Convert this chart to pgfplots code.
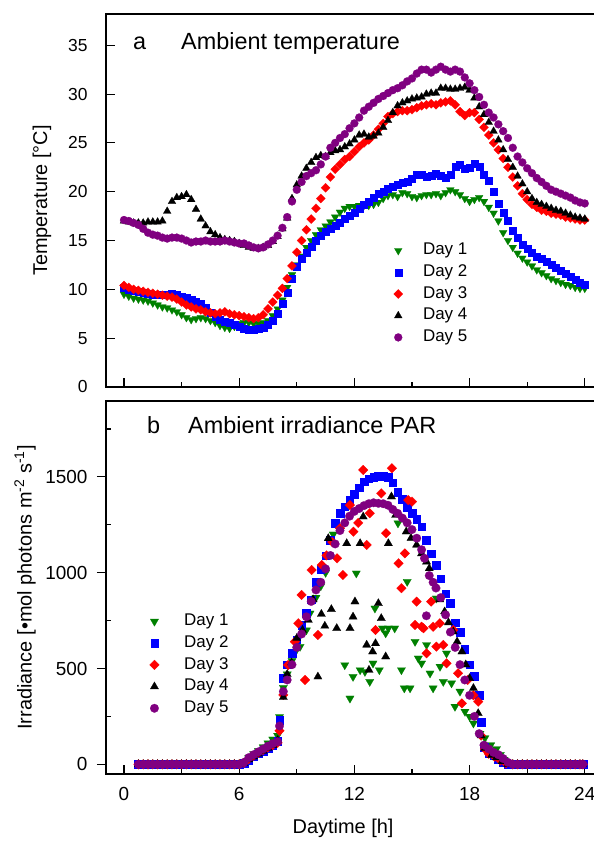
\documentclass[border=0pt]{standalone}
\usepackage{fontspec}
\setmainfont{Liberation Sans}
\usepackage{pgfplots}
\usepackage{pgfplotstable}
\pgfplotsset{compat=1.18}
\definecolor{dgreen}{RGB}{0,128,0}
\definecolor{dblue}{RGB}{0,0,255}
\definecolor{dred}{RGB}{255,0,0}
\definecolor{dpurple}{RGB}{128,0,128}

\pgfplotstableread{
t d1 d2 d3 d4 d5
0 9.5 10.2 10.4 17.0 17.1
0.25 9.3 10.0 10.2 16.9 17.0
0.5 9.1 9.9 10.0 16.8 16.8
0.75 9.0 9.8 9.9 16.8 16.6
1.0 8.9 9.7 9.8 16.8 16.2
1.25 8.8 9.6 9.7 16.9 15.8
1.5 8.6 9.5 9.6 16.9 15.6
1.75 8.4 9.5 9.5 16.9 15.5
2.0 8.2 9.5 9.4 17.0 15.3
2.25 8.1 9.5 9.3 18.0 15.2
2.5 7.9 9.6 9.2 19.0 15.3
2.75 7.7 9.5 9.0 19.4 15.3
3.0 7.4 9.3 8.7 19.5 15.2
3.25 7.1 9.2 8.4 19.7 15.0
3.5 6.9 8.9 8.2 19.2 14.8
3.75 7.0 8.7 8.0 18.2 14.9
4.0 7.1 8.5 7.9 17.2 14.9
4.25 7.0 8.1 7.7 16.5 15.0
4.5 6.8 7.6 7.6 15.9 14.9
4.75 6.6 7.2 7.5 15.6 14.9
5.0 6.3 6.9 7.6 15.3 14.9
5.25 6.1 6.7 7.7 15.1 15.0
5.5 6.0 6.6 7.5 15.0 14.9
5.75 6.2 6.4 7.4 14.9 14.8
6.0 6.5 6.2 7.3 14.7 14.7
6.25 6.6 6.0 7.2 14.5 14.7
6.5 6.6 5.9 7.1 14.3 14.5
6.75 6.5 5.9 7.0 14.2 14.3
7.0 6.5 6.0 7.1 14.2 14.2
7.25 6.6 6.1 7.4 14.3 14.3
7.5 6.8 6.4 8.0 14.5 14.6
7.75 7.3 6.8 8.7 14.9 15.0
8.0 8.0 7.5 9.4 15.4 15.5
8.25 8.9 8.5 10.1 16.2 16.3
8.5 10.2 9.7 11.1 17.3 17.4
8.75 11.5 11.1 12.4 19.3 19.0
9.0 12.5 12.3 13.8 20.7 20.2
9.25 13.4 13.1 15.0 21.6 21.0
9.5 14.3 13.8 16.1 22.4 21.6
9.75 15.0 14.4 17.2 23.0 21.9
10.0 15.6 15.0 18.3 23.5 22.2
10.25 16.1 15.5 19.3 23.7 22.8
10.5 16.5 15.9 20.4 23.6 23.6
10.75 16.9 16.2 21.5 24.0 24.5
11.0 17.4 16.5 22.3 24.2 25.0
11.25 17.9 16.8 22.8 24.3 25.5
11.5 18.3 17.2 23.3 24.6 25.9
11.75 18.5 17.6 23.6 24.9 26.5
12.0 18.5 17.9 24.1 25.3 27.0
12.25 18.6 18.3 24.6 25.8 27.6
12.5 18.6 18.7 25.0 25.9 28.3
12.75 18.6 19.0 25.3 25.6 28.7
13.0 18.7 19.4 25.8 25.7 29.1
13.25 18.9 19.8 26.4 26.0 29.5
13.5 19.3 20.0 27.0 26.6 29.8
13.75 19.6 20.3 27.7 27.3 30.1
14.0 19.7 20.5 28.0 28.1 30.4
14.25 19.5 20.7 28.2 28.8 30.6
14.5 19.9 20.9 28.3 29.1 30.9
14.75 19.8 21.0 28.3 29.3 31.3
15.0 19.5 21.3 28.4 29.5 31.6
15.25 19.4 21.8 28.6 29.6 32.1
15.5 19.6 21.8 28.8 29.7 32.5
15.75 19.7 21.5 28.9 30.0 32.5
16.0 19.7 21.6 29.0 30.1 32.2
16.25 19.8 21.9 28.9 30.1 32.5
16.5 19.6 21.7 29.1 30.6 32.8
16.75 19.9 21.4 29.2 30.6 32.5
17.0 20.2 21.8 29.3 30.5 32.3
17.25 20.0 22.6 28.9 30.5 32.5
17.5 19.7 22.8 28.2 30.6 32.3
17.75 19.3 22.4 27.8 30.7 31.7
18.0 19.0 22.5 28.1 30.4 31.1
18.25 19.2 22.9 28.1 29.6 30.4
18.5 19.4 22.6 27.4 28.7 29.7
18.75 19.0 21.8 26.6 27.9 28.9
19.0 18.4 21.1 25.8 27.1 28.1
19.25 17.8 20.0 25.0 26.2 27.6
19.5 17.0 18.8 24.3 25.3 26.9
19.75 15.8 17.9 23.4 24.3 26.2
20.0 15.0 17.0 22.5 23.3 25.5
20.25 14.3 16.0 21.5 22.5 24.5
20.5 13.7 15.3 20.6 21.6 23.6
20.75 13.2 14.6 19.8 20.8 23.0
21.0 12.8 14.2 19.2 20.0 22.4
21.25 12.4 13.8 18.7 19.3 21.9
21.5 12.0 13.4 18.4 18.9 21.4
21.75 11.7 13.1 18.1 18.7 21.0
22.0 11.4 12.8 18.0 18.5 20.6
22.25 11.1 12.5 17.8 18.3 20.2
22.5 10.9 12.2 17.7 18.1 20.0
22.75 10.7 11.9 17.6 18.0 19.8
23.0 10.5 11.6 17.4 17.8 19.6
23.25 10.4 11.3 17.3 17.6 19.4
23.5 10.2 11.0 17.2 17.4 19.1
23.75 10.1 10.7 17.1 17.3 18.9
24.0 10.1 10.5 17.1 17.2 18.8
}\temptable

\pgfplotsset{
  panel/.style={
    scale only axis, width=497bp, height=373bp,
    xmin=-0.9375, xmax=24.95,
    axis line style={line width=1.1bp},
    every tick/.style={line width=1.1bp, black},
    major tick length=9bp, minor tick length=4.5bp,
    xtick={0,6,12,18,24}, minor xtick={3,9,15,21},
    xtick pos=bottom, ytick pos=left,
    xtick align=inside,
    /pgf/number format/assume math mode=true,
    /pgf/number format/1000 sep={},
    legend cell align=left,
  },
  s1/.style={only marks, mark=triangle*, color=dgreen, mark options={rotate=180, fill=dgreen, draw=dgreen, line width=0.2bp}},
  s2/.style={only marks, mark=square*, color=dblue, mark options={fill=dblue, draw=dblue, line width=0.2bp}},
  s3/.style={only marks, mark=square*, color=dred, mark options={rotate=45, fill=dred, draw=dred, line width=0.2bp}},
  s4/.style={only marks, mark=triangle*, color=black, mark options={fill=black, draw=black, line width=0.2bp}},
  s5/.style={only marks, mark=*, color=dpurple, mark options={fill=dpurple, draw=dpurple, line width=0.2bp}},
}

\begin{document}
\begin{tikzpicture}
\path[use as bounding box] (0,0) rectangle (594bp,841bp);
% ---------- panel a ----------
\begin{axis}[panel,
  at={(106bp,454bp)}, anchor=south west,
  ymin=0, ymax=38.2,
  ytick={0,5,...,35}, ytick align=inside,
  xticklabels={},
  yticklabel style={font=\fontsize{17.5}{20}\selectfont, xshift=-15bp},
  ylabel={Temperature [°C]},
  ylabel style={font=\fontsize{20}{24}\selectfont, at={(axis description cs:-0.129,0.5)}, anchor=center},
  legend style={draw=none, fill=none, inner sep=0pt,
    font=\fontsize{17}{20}\selectfont,
    at={(axis cs:13.9,15.1)}, anchor=north west,
    nodes={inner sep=2.6bp, text height=12.5bp, text depth=4bp}},
  legend image code/.code={\draw[#1] plot coordinates {(7bp,0bp)}; \path (0bp,0bp) (29bp,0bp);},
]
\addplot[s1, mark size=4.5bp] table[x=t, y=d1] {\temptable};
\addplot[s2, mark size=3.5bp] table[x=t, y=d2] {\temptable};
\addplot[s3, mark size=3.2bp] table[x=t, y=d3] {\temptable};
\addplot[s4, mark size=4.5bp] table[x=t, y=d4] {\temptable};
\addplot[s5, mark size=4.0bp] table[x=t, y=d5] {\temptable};
\legend{Day 1,Day 2,Day 3,Day 4,Day 5}
\node[anchor=west, font=\fontsize{23.5}{28}\selectfont, inner sep=0pt] at (rel axis cs:0.054,0.922) {a};
\node[anchor=west, font=\fontsize{23.5}{28}\selectfont, inner sep=0pt] at (rel axis cs:0.151,0.922) {Ambient temperature};
\end{axis}
% ---------- panel b ----------
\begin{axis}[panel,
  at={(106bp,67bp)}, anchor=south west,
  ymin=-50.6, ymax=1896,
  ytick={0,500,1000,1500}, ytick align=outside,
  extra y ticks={250,750,1250,1750}, extra y tick labels={},
  extra y tick style={ytick align=inside, major tick length=4.5bp},
  xticklabels={0,6,12,18,24},
  xticklabel style={font=\fontsize{19}{22}\selectfont, yshift=-9.5bp},
  yticklabel style={font=\fontsize{19}{22}\selectfont, xshift=-6bp},
  xlabel={Daytime [h]},
  xlabel style={font=\fontsize{20}{24}\selectfont, at={(axis description cs:0.477,-0.147)}, anchor=center},
  ylabel={Irradiance [•mol photons m\textsuperscript{-2} s\textsuperscript{-1}]},
  ylabel style={font=\fontsize{20}{24}\selectfont, at={(axis description cs:-0.163,0.5)}, anchor=center},
  legend style={draw=none, fill=none, inner sep=0pt,
    font=\fontsize{17}{20}\selectfont,
    at={(axis cs:1.2,803)}, anchor=north west,
    nodes={inner sep=2.6bp, text height=12.5bp, text depth=4bp}},
  legend image code/.code={\draw[#1] plot coordinates {(7bp,0bp)}; \path (0bp,0bp) (34bp,0bp);},
]
\addplot[s1, mark size=4.8bp] coordinates {
(0.75,0)(1,0)(1.25,0)(1.5,0)(1.75,0)(2,0)(2.25,0)(2.5,0)(2.75,0)(3,0)(3.25,0)(3.5,0)(3.75,0)(4,0)(4.25,0)(4.5,0)(4.75,0)(5,0)(5.25,0)(5.5,0)(5.75,0)(6,0)
(6.25,12)(6.5,35)(6.75,55)(7.0,70)(7.25,90)(7.5,110)(7.75,130)(8.0,150)(8.1,248)(8.3,400)(8.5,470)(8.75,540)(9.0,600)(9.17,614)(9.5,700)(9.69,788)(10.0,870)(10.25,930)(10.5,1000)(10.9,1200)
(11.5,518)(11.77,344)(11.93,457)(12.1,997)(12.3,492)(12.55,483)(12.8,431)(12.97,527)(13.07,814)(13.3,492)(13.46,710)(13.63,684)(13.77,710)(14.1,710)(14.27,1258)(14.45,492)(14.6,397)(14.75,953)(14.9,397)
(15.16,640)(15.33,553)(15.5,527)(15.76,623)(15.94,475)(16.1,397)(16.27,866)(16.46,510)(16.63,431)(16.8,579)(17.06,423)(17.24,301)(17.5,380)(17.76,275)(18.0,249)(18.2,214)(18.54,160)(18.8,137)(19.1,100)(19.4,80)(19.6,50)(19.8,25)(20.0,5)
(20.25,0)(20.5,0)(20.75,0)(21,0)(21.25,0)(21.5,0)(21.75,0)(22,0)(22.25,0)(22.5,0)(22.75,0)(23,0)(23.25,0)(23.5,0)(23.75,0)(23.9,0)};
\addplot[s2, mark size=3.8bp] coordinates {
(0.75,0)(1,0)(1.25,0)(1.5,0)(1.75,0)(2,0)(2.25,0)(2.5,0)(2.75,0)(3,0)(3.25,0)(3.5,0)(3.75,0)(4,0)(4.25,0)(4.5,0)(4.75,0)(5,0)(5.25,0)(5.5,0)(5.75,0)(6,0)
(6.25,5)(6.5,20)(6.75,40)(7.0,55)(7.25,70)(7.5,85)(7.75,100)(8.0,120)(8.1,230)(8.3,450)(8.5,520)(8.75,580)(9.0,650)(9.25,727)(9.5,790)(9.75,860)(10.0,950)(10.25,1020)(10.5,1090)(10.75,1170)(11.0,1260)(11.25,1310)(11.5,1345)(11.75,1380)
(12.0,1410)(12.25,1445)(12.5,1475)(12.75,1490)(13.0,1500)(13.25,1505)(13.5,1505)(13.75,1500)(14.0,1470)(14.25,1420)(14.5,1385)(14.75,1340)(15.0,1310)(15.25,1280)(15.5,1240)(15.75,1170)(16.0,1100)(16.25,1040)(16.5,970)(16.75,890)
(17.0,840)(17.25,740)(17.5,690)(17.75,600)(18.0,520)(18.25,460)(18.5,360)(18.6,220)(18.75,90)(19.0,60)(19.25,45)(19.5,25)(19.75,10)
(20,0)(20.25,0)(20.5,0)(20.75,0)(21,0)(21.25,0)(21.5,0)(21.75,0)(22,0)(22.25,0)(22.5,0)(22.75,0)(23,0)(23.25,0)(23.5,0)(23.75,0)(23.9,0)};
\addplot[s3, mark size=3.4bp] coordinates {
(0.75,0)(1,0)(1.25,0)(1.5,0)(1.75,0)(2,0)(2.25,0)(2.5,0)(2.75,0)(3,0)(3.25,0)(3.5,0)(3.75,0)(4,0)(4.25,0)(4.5,0)(4.75,0)(5,0)(5.25,0)(5.5,0)(5.75,0)(6,0)
(6.25,8)(6.5,28)(6.75,45)(7.0,60)(7.25,75)(7.5,88)(7.75,100)(8.0,112)(8.1,175)(8.3,362)(8.55,518)(8.9,640)(9.08,736)(9.25,884)(9.43,440)(9.77,1014)(10.1,675)(10.3,1040)(10.55,1090)(10.85,1160)(11.1,1075)(11.25,1232)(11.4,988)(11.77,1353)(11.95,1214)
(12.2,1260)(12.46,1536)(12.64,1145)(12.8,1310)(13.1,701)(13.4,1414)(13.65,1206)(13.95,1545)(14.3,1049)(14.45,919)(14.63,1101)(14.8,1379)(15.0,1371)(15.16,727)(15.24,849)(15.5,718)(15.6,710)(15.76,579)(16.0,849)(16.1,718)(16.27,614)(16.45,736)(16.63,623)(16.8,527)
(17.15,701)(17.4,475)(17.6,318)(17.9,440)(18.2,360)(18.45,327)(18.6,150)(18.8,80)(19.0,55)(19.3,40)(19.6,20)(19.9,5)
(20.25,0)(20.5,0)(20.75,0)(21,0)(21.25,0)(21.5,0)(21.75,0)(22,0)(22.25,0)(22.5,0)(22.75,0)(23,0)(23.25,0)(23.5,0)(23.75,0)(23.9,0)};
\addplot[s4, mark size=4.8bp] coordinates {
(0.75,0)(1,0)(1.25,0)(1.5,0)(1.75,0)(2,0)(2.25,0)(2.5,0)(2.75,0)(3,0)(3.25,0)(3.5,0)(3.75,0)(4,0)(4.25,0)(4.5,0)(4.75,0)(5,0)(5.25,0)(5.5,0)(5.75,0)(6,0)
(6.25,5)(6.5,25)(6.75,40)(7.0,55)(7.25,70)(7.5,85)(7.75,100)(8.0,125)(8.3,350)(8.5,470)(8.73,530)(9.0,658)(9.3,700)(9.6,753)(9.85,860)(10.1,457)(10.28,784)(10.46,722)(10.64,1179)(10.8,809)(11.08,710)(11.6,1153)(11.77,710)(11.93,770)
(12.03,849)(12.3,1153)(12.46,1292)(12.64,623)(12.76,492)(12.95,588)(13.1,631)(13.25,840)(13.4,762)(13.63,562)(13.77,1153)(13.93,1397)(14.15,1301)(14.7,1214)(14.95,1180)(15.24,1145)(15.5,1100)(15.76,1057)(15.9,1022)(16.25,927)(16.45,860)(16.7,797)(16.9,740)
(17.15,692)(17.35,640)(17.6,588)(17.8,520)(18.0,449)(18.2,397)(18.45,266)(18.6,150)(18.8,84)(19.15,48)(19.4,35)(19.7,15)
(20,0)(20.25,0)(20.5,0)(20.75,0)(21,0)(21.25,0)(21.5,0)(21.75,0)(22,0)(22.25,0)(22.5,0)(22.75,0)(23,0)(23.25,0)(23.5,0)(23.75,0)(23.9,0)};
\addplot[s5, mark size=4.3bp] coordinates {
(0.75,0)(1,0)(1.25,0)(1.5,0)(1.75,0)(2,0)(2.25,0)(2.5,0)(2.75,0)(3,0)(3.25,0)(3.5,0)(3.75,0)(4,0)(4.25,0)(4.5,0)(4.75,0)(5,0)(5.25,0)(5.5,0)(5.75,0)(6,0)
(6.25,10)(6.5,35)(6.75,50)(7.0,65)(7.25,80)(7.5,95)(7.75,108)(8.0,118)(8.1,200)(8.3,380)(8.5,440)(8.75,520)(9.0,610)(9.25,680)(9.5,770)(9.75,850)(10.0,910)(10.25,950)(10.5,1020)(10.75,1090)(11.0,1150)(11.25,1220)(11.5,1260)(11.75,1295)
(12.0,1320)(12.25,1335)(12.5,1350)(12.75,1360)(13.0,1365)(13.25,1362)(13.5,1360)(13.75,1352)(14.0,1330)(14.25,1310)(14.5,1285)(14.75,1260)(15.0,1225)(15.25,1180)(15.5,1120)(15.65,1075)(15.75,775)(15.9,985)(16.1,950)(16.25,920)(16.5,870)(16.75,780)
(17.0,690)(17.25,610)(17.5,520)(17.75,440)(18.0,360)(18.25,250)(18.5,160)(18.75,100)(19.0,80)(19.25,62)(19.5,50)(19.75,30)(20.0,10)
(20.25,0)(20.5,0)(20.75,0)(21,0)(21.25,0)(21.5,0)(21.75,0)(22,0)(22.25,0)(22.5,0)(22.75,0)(23,0)(23.25,0)(23.5,0)(23.75,0)(23.9,0)};
\legend{Day 1,Day 2,Day 3,Day 4,Day 5}
\node[anchor=west, font=\fontsize{23.5}{28}\selectfont, inner sep=0pt] at (rel axis cs:0.0825,0.936) {b};
\node[anchor=west, font=\fontsize{23.5}{28}\selectfont, inner sep=0pt] at (rel axis cs:0.165,0.936) {Ambient irradiance PAR};
\end{axis}
\end{tikzpicture}
\end{document}
